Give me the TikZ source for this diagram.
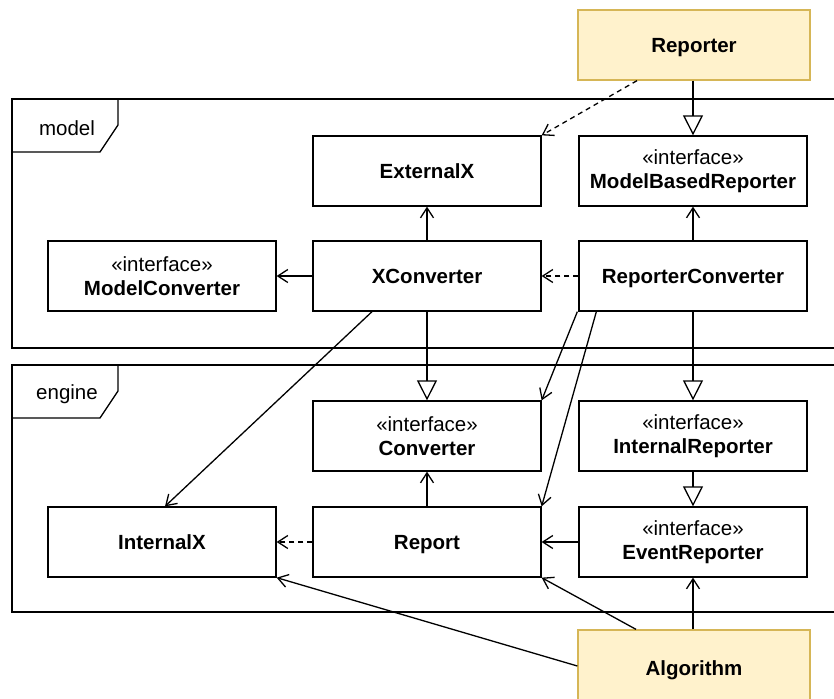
\documentclass[tikz,border=0pt]{standalone}
\usepackage{fontspec}
\setmainfont{Liberation Sans}
\usetikzlibrary{arrows.meta}

\definecolor{notefill}{HTML}{FFF2CC}
\definecolor{noteline}{HTML}{D6B656}

\tikzset{
  cls/.style={draw, line width=1.3pt, fill=white, minimum width=228pt,
    minimum height=70pt, inner sep=0pt, align=center,
    font=\fontsize{20.5}{23.5}\selectfont},
  plain/.style={cls, text height=15pt, text depth=0pt},
  actor/.style={plain, fill=notefill, draw=noteline, minimum width=232pt},
  uses/.style={line width=1.3pt, -{Straight Barb[length=10pt,width=13pt]}},
  depends/.style={uses, dash pattern=on 5pt off 4pt},
  extends/.style={line width=1.3pt, -{Triangle[open,length=20pt,width=20pt]}},
  pkg/.style={line width=1.3pt},
  pkgname/.style={font=\fontsize{20.5}{24}\selectfont}
}

\begin{document}
\begin{tikzpicture}[x=1pt,y=-1pt]
\useasboundingbox (0,0) rectangle (834,698);
\clip (0,0) rectangle (834,698);
    % the two packages, cut off at the right
    \draw[pkg] (12,99) rectangle (860,348);
    \draw[pkg] (12,152) -- (100,152) -- (118,125) -- (118,99);
    \node[pkgname] (model) at (67,128) {model};
    \draw[pkg] (12,365) rectangle (860,612);
    \draw[pkg] (12,418) -- (100,418) -- (118,391) -- (118,365);
    \node[pkgname] (engine) at (67,394) {engine};

    \node[actor] (Reporter) at (694,45) {\textbf{Reporter}};
    \node[actor, minimum height=76pt] (Algorithm) at (694,668) {\textbf{Algorithm}};

    % model
    \node[plain] (ExternalX) at (427,171) {\textbf{ExternalX}};
    \node[cls] (ModelBasedReporter) at (693,171) {«interface»\\\textbf{ModelBasedReporter}};
    \node[cls] (ModelConverter) at (162,276) {«interface»\\\textbf{ModelConverter}};
    \node[plain] (XConverter) at (427,276) {\textbf{XConverter}};
    \node[plain] (ReporterConverter) at (693,276) {\textbf{ReporterConverter}};

    % engine
    \node[cls] (Converter) at (427,436) {«interface»\\\textbf{Converter}};
    \node[cls] (InternalReporter) at (693,436) {«interface»\\\textbf{InternalReporter}};
    \node[plain] (InternalX) at (162,542) {\textbf{InternalX}};
    \node[plain] (Report) at (427,542) {\textbf{Report}};
    \node[cls] (EventReporter) at (693,542) {«interface»\\\textbf{EventReporter}};

    \draw[depends] ([xshift=-57pt]Reporter.south) -- (ExternalX.north east);
    \draw[extends] ([xshift=-1pt]Reporter.south) -- (ModelBasedReporter.north);
    \draw[uses] (ReporterConverter) -- (ModelBasedReporter);
    \draw[uses] (XConverter) -- (ExternalX);
    \draw[uses] (XConverter) -- (ModelConverter);
    \draw[depends] (ReporterConverter) -- (XConverter);
    \draw[extends] (XConverter) -- (Converter);
    \draw[extends] (ReporterConverter) -- (InternalReporter);
    \draw[uses] ([xshift=-55pt]XConverter.south) -- ([xshift=3pt]InternalX.north);
    \draw[uses] ([xshift=-1pt]ReporterConverter.south west) -- (Converter.north east);
    \draw[uses] ([xshift=18pt]ReporterConverter.south west) -- (Report.north east);
    \draw[uses] (Report) -- (Converter);
    \draw[extends] (InternalReporter) -- (EventReporter);
    \draw[uses] (EventReporter) -- (Report);
    \draw[depends] (Report) -- (InternalX);
    \draw[uses] ([yshift=2pt]Algorithm.west) -- (InternalX.south east);
    \draw[uses] ([xshift=-58pt]Algorithm.north) -- (Report.south east);
    \draw[uses] ([xshift=-1pt]Algorithm.north) -- (EventReporter.south);
\end{tikzpicture}
\end{document}
